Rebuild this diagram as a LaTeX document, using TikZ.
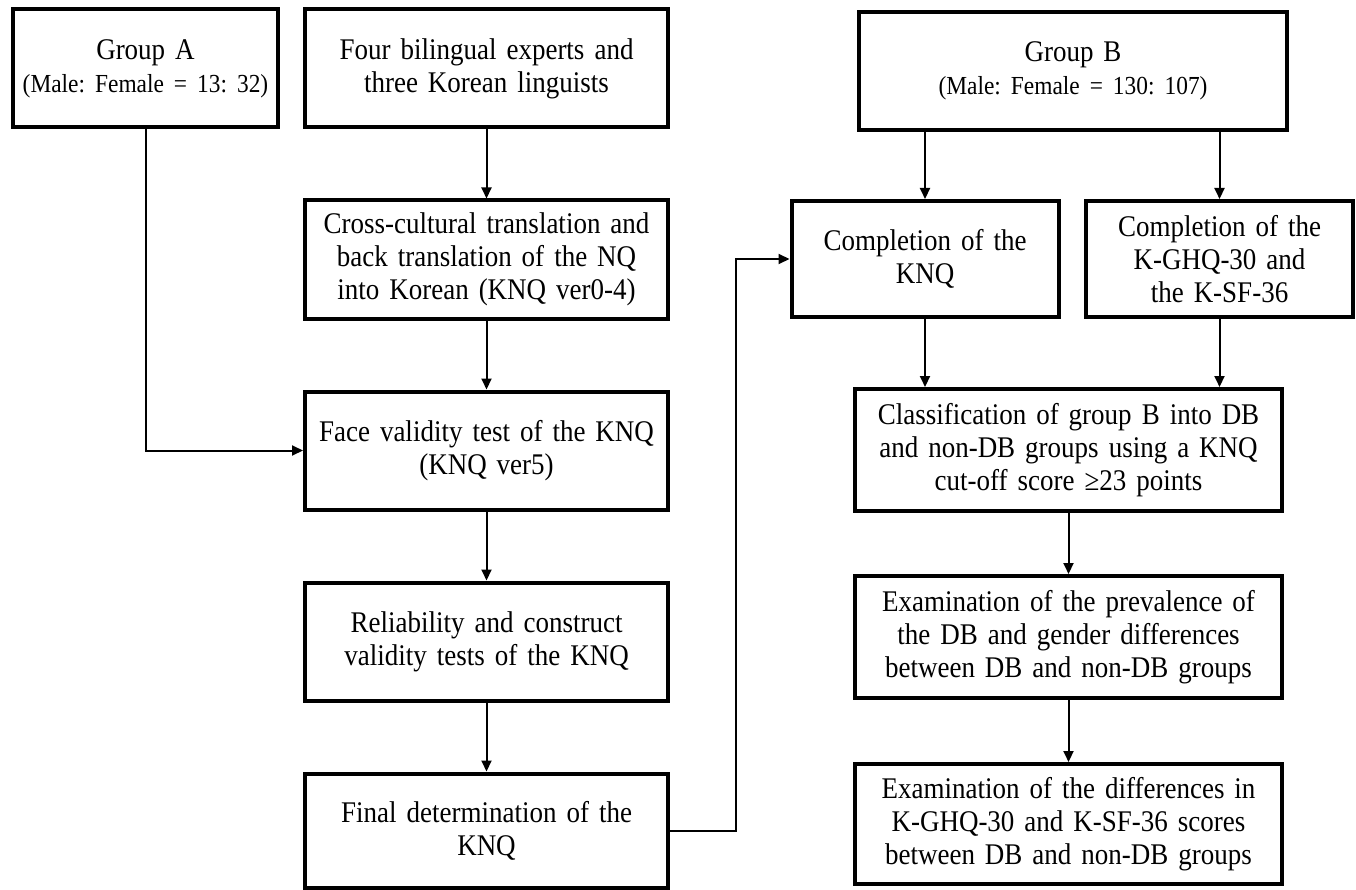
\documentclass[tikz,border=0pt]{standalone}
\usepackage{fontspec}
\setmainfont{Liberation Serif}[FakeStretch=0.9]
\usetikzlibrary{arrows.meta, positioning, calc}
\frenchspacing

\begin{document}
\begin{tikzpicture}[x=1pt, y=-1pt, node distance=69pt,
  box/.style={draw, line width=4pt, fill=white, align=center, inner sep=4pt,
              text width=355pt, minimum height=118pt,
              font=\fontsize{30}{33}\selectfont},
  wide/.style={box, text width=419pt, minimum height=122pt},
  half/.style={box, text width=259pt, minimum height=116pt},
  a/.style={-{Triangle[length=11pt, width=10pt]}, line width=2pt, draw=black}]
  \useasboundingbox (0,0) rectangle (1356,890);

  % left column
  \node[box, text width=257pt] (grpA) at (145.5,68.5)
        {Group A\\\fontsize{26}{29}\selectfont (Male: Female = 13: 32)};
  \node[box] (experts) at (486.5,68.5) {Four bilingual experts and\\ three Korean linguists};
  \node[box, below=of experts] (transl)
        {Cross-cultural translation and\\ back translation of the NQ\\ into Korean (KNQ ver0-4)};
  \node[box, below=of transl] (face) {Face validity test of the KNQ\\ (KNQ ver5)};
  \node[box, below=of face] (reliab) {Reliability and construct\\ validity tests of the KNQ};
  \node[box, below=of reliab, minimum height=114pt] (final) {Final determination of the\\ KNQ};

  % right column
  \node[box, text width=420pt] (grpB) at (1073,71)
        {Group B\\\fontsize{26}{29}\selectfont (Male: Female = 130: 107)};
  \node[half] (knq) at (925,259) {Completion of the\\ KNQ};
  \node[half] (ghq) at (1219.5,259) {Completion of the\\ K-GHQ-30 and\\ the K-SF-36};
  \node[wide] (classif) at (1068.5,450)
        {Classification of group B into DB\\ and non-DB groups using a KNQ\\ cut-off score ≥23 points};
  \node[wide, below=61pt of classif] (preval)
        {Examination of the prevalence of\\ the DB and gender differences\\ between DB and non-DB groups};
  \node[wide, below=62pt of preval, minimum height=120pt] (differ)
        {Examination of the differences in\\ K-GHQ-30 and K-SF-36 scores\\ between DB and non-DB groups};
  \coordinate (bend) at ($(final.east)+(66,0)$);

  \draw[a] (grpA.south) |- (face.west);
  \draw[a] (experts) -- (transl);
  \draw[a] (transl) -- (face);
  \draw[a] (face) -- (reliab);
  \draw[a] (reliab) -- (final);
  \draw[a] (final.east) -- (bend) |- (knq.west);
  \draw[a] (grpB.south -| knq.north) -- (knq.north);
  \draw[a] (grpB.south -| ghq.north) -- (ghq.north);
  \draw[a] (knq.south) -- (knq.south |- classif.north);
  \draw[a] (ghq.south) -- (ghq.south |- classif.north);
  \draw[a] (classif) -- (preval);
  \draw[a] (preval) -- (differ);
\end{tikzpicture}
\end{document}
